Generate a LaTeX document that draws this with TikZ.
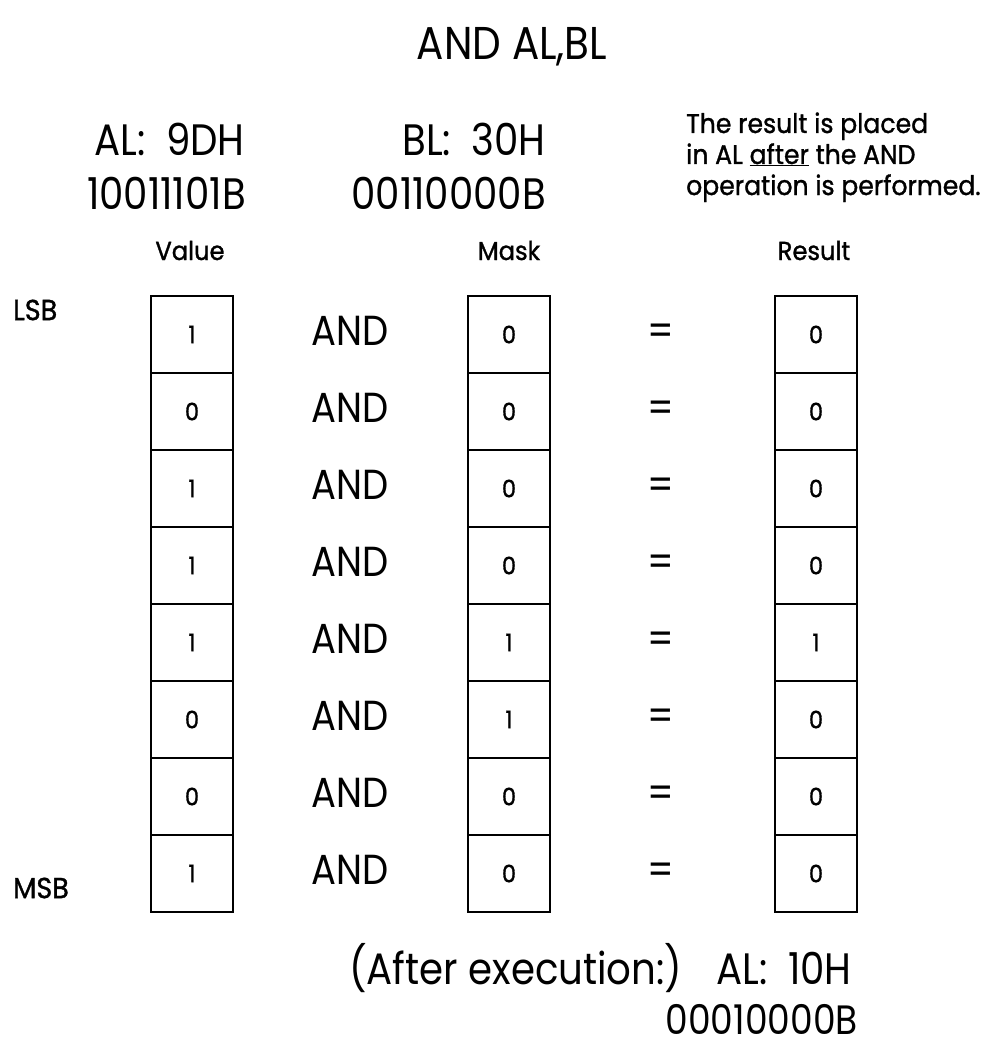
\documentclass[tikz,border=0pt]{standalone}
\usepackage{fontspec}
\setmainfont{Poppins}[FakeStretch=0.88]
\newfontfamily\smf{Poppins}[FakeStretch=0.93,FakeBold=1.2]
\begin{document}
\begin{tikzpicture}[x=1pt,y=-1pt,
  cell/.style={draw,line width=2.8pt,minimum width=82pt,minimum height=77pt,inner sep=0pt,font=\smf\fontsize{24}{24}\selectfont},
  big/.style={inner sep=0pt,font=\fontsize{44}{44}\selectfont},
  mid/.style={inner sep=0pt,font=\smf\fontsize{27}{27}\selectfont},
  small/.style={inner sep=0pt,font=\smf\fontsize{26}{26}\selectfont},
  op/.style={inner sep=0pt,font=\fontsize{42}{42}\selectfont}]
\useasboundingbox (0,0) rectangle (986,1051);
% title
\node[big,anchor=base,font=\fontsize{46}{46}\selectfont] (title) at (512,60) {AND AL,BL};
% operands
\node[big,anchor=base east] (al) at (245,156) {AL: \ 9DH};
\node[big,anchor=base east] (alb) at (246,209) {10011101B};
\node[big,anchor=base east] (bl) at (546,156) {BL: \ 30H};
\node[big,anchor=base east] (blb) at (546,209) {00110000B};
% note
\node[mid,anchor=base west] (n1) at (686,133) {The result is placed};
\node[mid,anchor=base west] (n2) at (686,164) {in AL \underline{after} the AND};
\node[mid,anchor=base west] (n3) at (686,195) {operation is performed.};
% column headings
\node[small,anchor=base] (hv) at (190,260) {Value};
\node[small,anchor=base] (hm) at (509,260) {Mask};
\node[small,anchor=base] (hr) at (814,260) {Result};
% LSB / MSB
\node[small,anchor=west,font=\smf\fontsize{29}{29}\selectfont] (lsb) at (13,310) {LSB};
\node[small,anchor=west,font=\smf\fontsize{29}{29}\selectfont] (msb) at (13,888) {MSB};
% rows
\foreach \v/\m/\r [count=\i] in {1/0/0,0/0/0,1/0/0,1/0/0,1/1/1,0/1/0,0/0/0,1/0/0}{
  \pgfmathsetmacro{\yc}{296+77*(\i-0.5)}
  \node[cell] (v\i) at (192,\yc) {\v};
  \node[cell] (m\i) at (509,\yc) {\m};
  \node[cell] (r\i) at (816,\yc) {\r};
  \node[op,anchor=base] (and\i) at (350,\yc+11) {AND};
  \node[op,anchor=base] (eq\i) at (661,\yc+11) {=};
}
% after execution
\node[big,anchor=base west] (after) at (349,984) {(After execution:)};
\node[big,anchor=base east] (res) at (852,984) {AL: \ 10H};
\node[big,anchor=base east,font=\fontsize{41}{41}\selectfont] (resb) at (858,1034) {00010000B};
\end{tikzpicture}
\end{document}
